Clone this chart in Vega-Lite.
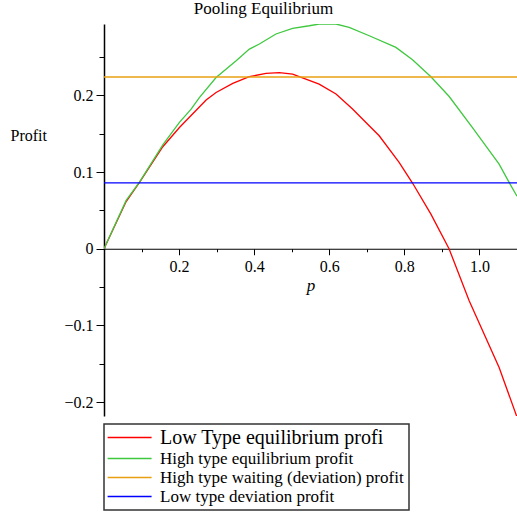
{
  "$schema": "https://vega.github.io/schema/vega-lite/v6.json",
  "width": 413,
  "height": 392,
  "padding": {"left": 10, "top": 0, "right": 0, "bottom": 0},
  "autosize": {"type": "pad"},
  "background": "white",
  "title": {"text": "Pooling Equilibrium", "font": "Liberation Serif", "fontSize": 17, "fontWeight": "normal", "color": "black", "anchor": "middle", "frame": "bounds", "offset": 6},
  "config": {"view": {"stroke": null}, "legend": {"strokeWidth": 1.5}},
  "data": {"values": [
    {"series": "Low Type equilibrium profi", "p": 0, "profit": 0},
    {"series": "Low Type equilibrium profi", "p": 0.059, "profit": 0.0615},
    {"series": "Low Type equilibrium profi", "p": 0.0945, "profit": 0.0865},
    {"series": "Low Type equilibrium profi", "p": 0.1566, "profit": 0.133},
    {"series": "Low Type equilibrium profi", "p": 0.2009, "profit": 0.158},
    {"series": "Low Type equilibrium profi", "p": 0.272, "profit": 0.1939},
    {"series": "Low Type equilibrium profi", "p": 0.2985, "profit": 0.2038},
    {"series": "Low Type equilibrium profi", "p": 0.343, "profit": 0.2155},
    {"series": "Low Type equilibrium profi", "p": 0.387, "profit": 0.2243},
    {"series": "Low Type equilibrium profi", "p": 0.4316, "profit": 0.2286},
    {"series": "Low Type equilibrium profi", "p": 0.467, "profit": 0.2295},
    {"series": "Low Type equilibrium profi", "p": 0.5024, "profit": 0.2277},
    {"series": "Low Type equilibrium profi", "p": 0.52, "profit": 0.2243},
    {"series": "Low Type equilibrium profi", "p": 0.573, "profit": 0.2147},
    {"series": "Low Type equilibrium profi", "p": 0.618, "profit": 0.2017},
    {"series": "Low Type equilibrium profi", "p": 0.662, "profit": 0.1821},
    {"series": "Low Type equilibrium profi", "p": 0.6977, "profit": 0.1647},
    {"series": "Low Type equilibrium profi", "p": 0.733, "profit": 0.1473},
    {"series": "Low Type equilibrium profi", "p": 0.786, "profit": 0.1125},
    {"series": "Low Type equilibrium profi", "p": 0.8217, "profit": 0.0857},
    {"series": "Low Type equilibrium profi", "p": 0.8707, "profit": 0.0452},
    {"series": "Low Type equilibrium profi", "p": 0.919, "profit": 0.0},
    {"series": "Low Type equilibrium profi", "p": 0.9726, "profit": -0.0678},
    {"series": "Low Type equilibrium profi", "p": 1.0524, "profit": -0.1548},
    {"series": "Low Type equilibrium profi", "p": 1.1, "profit": -0.2195},
    {"series": "High type equilibrium profit", "p": 0, "profit": 0},
    {"series": "High type equilibrium profit", "p": 0.059, "profit": 0.063},
    {"series": "High type equilibrium profit", "p": 0.0945, "profit": 0.087},
    {"series": "High type equilibrium profit", "p": 0.1566, "profit": 0.1355},
    {"series": "High type equilibrium profit", "p": 0.2009, "profit": 0.1647},
    {"series": "High type equilibrium profit", "p": 0.232, "profit": 0.1821},
    {"series": "High type equilibrium profit", "p": 0.254, "profit": 0.197},
    {"series": "High type equilibrium profit", "p": 0.2985, "profit": 0.2233},
    {"series": "High type equilibrium profit", "p": 0.352, "profit": 0.245},
    {"series": "High type equilibrium profit", "p": 0.3872, "profit": 0.2603},
    {"series": "High type equilibrium profit", "p": 0.4138, "profit": 0.2669},
    {"series": "High type equilibrium profit", "p": 0.458, "profit": 0.28},
    {"series": "High type equilibrium profit", "p": 0.5024, "profit": 0.2873},
    {"series": "High type equilibrium profit", "p": 0.5468, "profit": 0.2907},
    {"series": "High type equilibrium profit", "p": 0.573, "profit": 0.293},
    {"series": "High type equilibrium profit", "p": 0.618, "profit": 0.293},
    {"series": "High type equilibrium profit", "p": 0.653, "profit": 0.2886},
    {"series": "High type equilibrium profit", "p": 0.7065, "profit": 0.2777},
    {"series": "High type equilibrium profit", "p": 0.7775, "profit": 0.2625},
    {"series": "High type equilibrium profit", "p": 0.8217, "profit": 0.2465},
    {"series": "High type equilibrium profit", "p": 0.8707, "profit": 0.2243},
    {"series": "High type equilibrium profit", "p": 0.9194, "profit": 0.1985},
    {"series": "High type equilibrium profit", "p": 0.9814, "profit": 0.158},
    {"series": "High type equilibrium profit", "p": 1.0524, "profit": 0.1104},
    {"series": "High type equilibrium profit", "p": 1.079, "profit": 0.0865},
    {"series": "High type equilibrium profit", "p": 1.1, "profit": 0.0685},
    {"series": "High type waiting (deviation) profit", "p": 0, "profit": 0.2239},
    {"series": "High type waiting (deviation) profit", "p": 1.1, "profit": 0.2239},
    {"series": "Low type deviation profit", "p": 0, "profit": 0.086},
    {"series": "Low type deviation profit", "p": 1.1, "profit": 0.086}
  ]},
  "layer": [
    {
      "transform": [{"filter": "datum.series == 'Low Type equilibrium profi' || datum.series == 'High type equilibrium profit'"}],
      "mark": {"type": "line", "strokeWidth": 1.3, "clip": true},
      "encoding": {
        "x": {"field": "p", "type": "quantitative",
          "scale": {"domain": [0, 1.1], "nice": false, "zero": false},
          "axis": {"orient": "bottom", "offset": -167.25, "values": [0.2, 0.4, 0.6, 0.8, 1.0], "format": ".1f",
            "tickSize": 6, "tickColor": "black", "tickWidth": 1, "domainColor": "black", "domainWidth": 1.2,
            "labelFont": "Liberation Serif", "labelFontSize": 16, "labelColor": "black", "labelPadding": 4,
            "labelFlush": false, "labelOverlap": false, "grid": false,
            "title": "p", "titleFont": "Liberation Serif", "titleFontStyle": "italic", "titleFontWeight": "normal",
            "titleFontSize": 17, "titleColor": "black", "titlePadding": 3}},
        "y": {"field": "profit", "type": "quantitative",
          "scale": {"domain": [-0.218, 0.293], "nice": false, "zero": false},
          "axis": {"orient": "left", "values": [-0.2, -0.1, 0, 0.1, 0.2],
            "labelExpr": "datum.value == 0 ? '0' : format(datum.value, '.1f')",
            "tickSize": 8, "tickColor": "black", "tickWidth": 1, "domainColor": "black", "domainWidth": 1.5,
            "labelFont": "Liberation Serif", "labelFontSize": 16, "labelColor": "black", "labelPadding": 3,
            "labelFlush": false, "labelOverlap": false, "grid": false,
            "title": "Profit", "titleFont": "Liberation Serif", "titleFontWeight": "normal", "titleFontSize": 16,
            "titleColor": "black", "titleAngle": 0, "titleAlign": "left", "titleBaseline": "middle",
            "titleX": -94, "titleY": 111}},
        "color": {"field": "series", "type": "nominal",
          "scale": {"domain": ["Low Type equilibrium profi", "High type equilibrium profit", "High type waiting (deviation) profit", "Low type deviation profit"],
            "range": ["#ff0000", "#3fc83f", "#e8a010", "#0000ff"]},
          "legend": {"orient": "none", "legendX": 0, "legendY": 400, "title": null, "direction": "vertical",
            "symbolType": "M-1.8,0H6.2", "symbolSize": 121, "symbolStrokeWidth": 1.5,
            "labelFont": "Liberation Serif", "labelFontSize": {"expr": "datum.label == 'Low Type equilibrium profi' ? 20 : 17"},
            "labelColor": "black", "labelLimit": 0, "labelOffset": 34, "rowPadding": 1, "padding": 5,
            "strokeColor": "#333333", "fillColor": "white", "cornerRadius": 0}}
      }
    },
    {
      "transform": [{"filter": "datum.series == 'High type waiting (deviation) profit' || datum.series == 'Low type deviation profit'"}],
      "mark": {"type": "line", "strokeWidth": 1.3, "clip": true},
      "encoding": {
        "x": {"field": "p", "type": "quantitative",
          "axis": {"orient": "bottom", "offset": -167.25, "values": [0.1, 0.3, 0.5, 0.7, 0.9],
            "tickSize": 3, "tickColor": "black", "labels": false, "domain": false, "grid": false, "title": null}},
        "y": {"field": "profit", "type": "quantitative",
          "axis": {"orient": "left", "values": [-0.15, -0.05, 0.05, 0.15, 0.25],
            "tickSize": 5, "tickColor": "black", "labels": false, "domain": false, "grid": false, "title": null}},
        "color": {"field": "series", "type": "nominal"}
      }
    }
  ],
  "resolve": {"axis": {"x": "independent", "y": "independent"}}
}
